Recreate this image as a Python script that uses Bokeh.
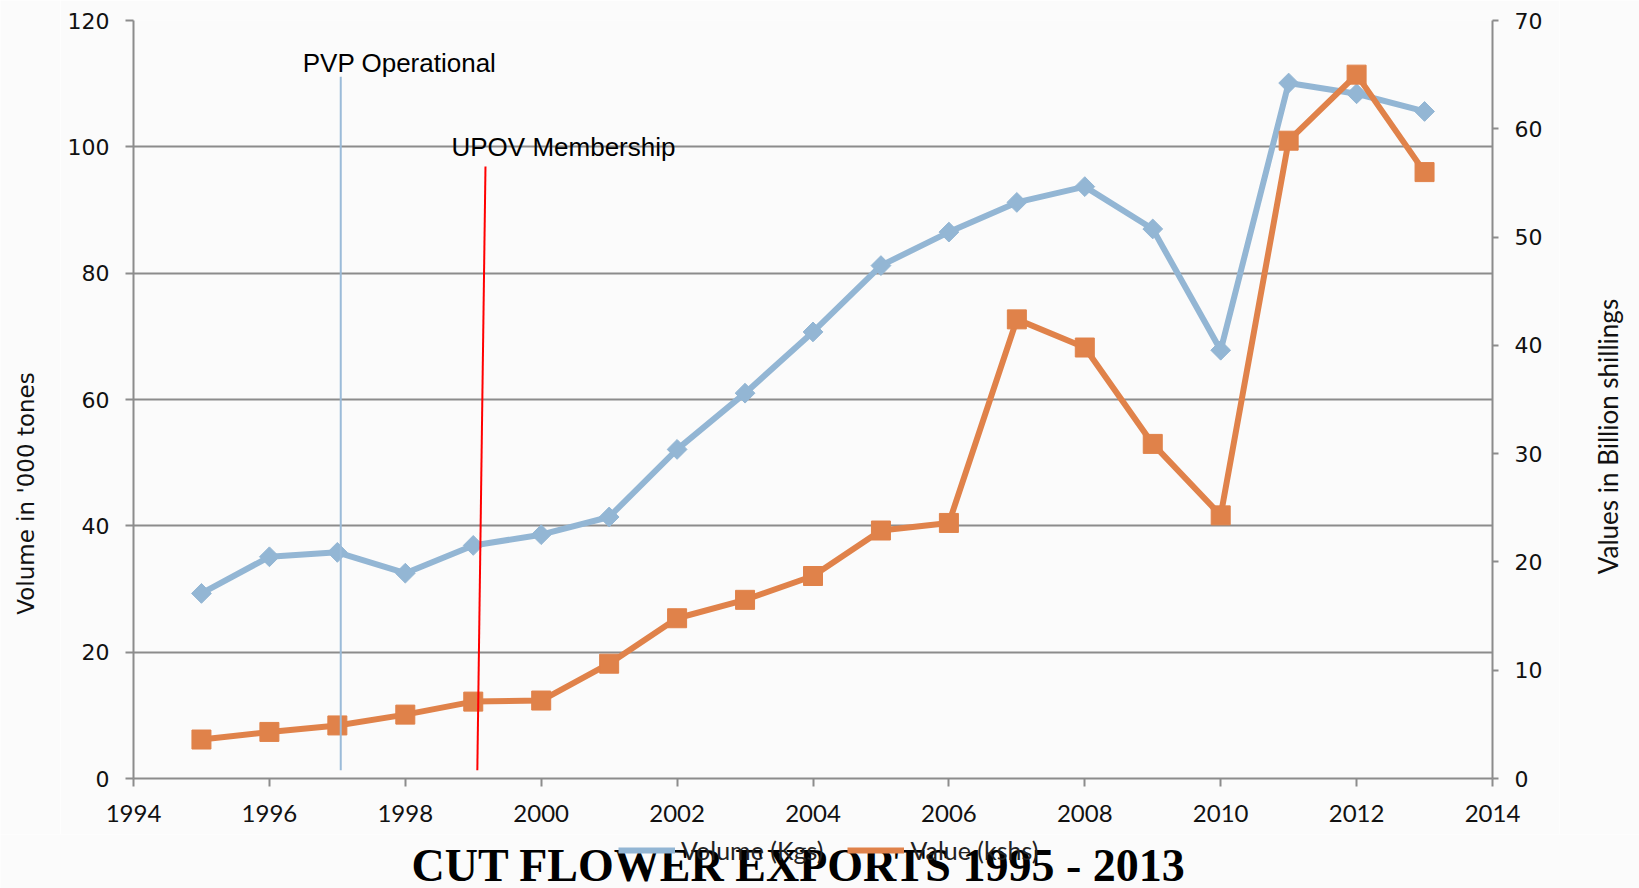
import math
from bokeh.plotting import figure
from bokeh.layouts import column, row
from bokeh.models import (Range1d, LinearAxis, SingleIntervalTicker, Label,
                          Legend, LegendItem)
from bokeh.embed import file_html
from bokeh.resources import INLINE

# ---------------- data ----------------
years = [1995, 1996, 1997, 1998, 1999, 2000, 2001, 2002, 2003, 2004,
         2005, 2006, 2007, 2008, 2009, 2010, 2011, 2012, 2013]
volume = [29.3, 35.1, 35.8, 32.5, 36.9, 38.6, 41.4, 52.1, 61.0, 70.7,
          81.2, 86.5, 91.2, 93.7, 87.0, 67.8, 110.1, 108.4, 105.6]
value = [3.6, 4.3, 4.9, 5.9, 7.1, 7.2, 10.6, 14.8, 16.5, 18.7,
         22.9, 23.6, 42.4, 39.8, 30.9, 24.3, 58.9, 65.0, 56.0]

series_names = ["Volume (Kgs)", "Value (kshs)"]
left_axis_title = "Volume in '000 tones"
right_axis_title = "Values in Billion shillings"
chart_title = "CUT FLOWER EXPORTS 1995 - 2013"

# annotation lines (year, left-axis value)
pvp_x = [1997.05, 1997.05]
pvp_y = [1.3, 111.1]
upov_x = [1999.06, 1999.18]
upov_y = [1.3, 96.9]
pvp_text = "PVP Operational"
upov_text = "UPOV Membership"

BLUE = "#93b6d4"
ORANGE = "#e0824a"
GRID = "#8c8c8c"
BG = "#fbfbfb"
TXT = "#111111"

W = 1639
WL, WR = 60, 80          # side strips holding the axis titles
WM = W - WL - WR         # main plot width
H1 = 834
H2 = 54


def no_align(fig):
    try:
        fig.frame_align = False
        return True
    except Exception:
        return False


def strip(width, height):
    f = figure(width=width, height=height, output_backend="svg",
               toolbar_location=None, x_range=Range1d(0, 1), y_range=Range1d(0, 1),
               x_axis_location=None, y_axis_location=None,
               min_border_left=0, min_border_right=0,
               min_border_top=0, min_border_bottom=0)
    f.background_fill_color = BG
    f.border_fill_color = BG
    f.outline_line_color = None
    f.grid.visible = False
    return f


# ---------------- main plot ----------------
p = figure(width=WM, height=H1, output_backend="svg", toolbar_location=None,
           x_range=Range1d(1994, 2014), y_range=Range1d(0, 120),
           min_border_left=133 - WL, min_border_right=WM - (133 - WL) - 1359,
           min_border_top=20, min_border_bottom=56)
p.background_fill_color = BG
p.border_fill_color = BG
p.outline_line_color = None

p.extra_y_ranges = {"value": Range1d(0, 70)}

p.xgrid.visible = False
p.ygrid.grid_line_color = GRID
p.ygrid.grid_line_width = 2
p.ygrid.ticker = SingleIntervalTicker(interval=20)

xa = p.xaxis[0]
xa.ticker = SingleIntervalTicker(interval=2)
xa.axis_line_color = GRID
xa.axis_line_width = 2
xa.major_tick_line_color = GRID
xa.major_tick_line_width = 2
xa.major_tick_out = 8
xa.major_tick_in = 0
xa.minor_tick_line_color = None
xa.major_label_text_font = "Lato"
xa.major_label_text_font_size = "24px"
xa.major_label_text_color = TXT
xa.major_label_standoff = 18

ya = p.yaxis[0]
ya.ticker = SingleIntervalTicker(interval=20)
ya.axis_line_color = GRID
ya.axis_line_width = 2
ya.major_tick_line_color = GRID
ya.major_tick_line_width = 2
ya.major_tick_out = 8
ya.major_tick_in = 0
ya.minor_tick_line_color = None
ya.major_label_text_font = "DejaVu Sans"
ya.major_label_text_font_size = "22px"
ya.major_label_text_color = TXT
ya.major_label_standoff = 16

ra = LinearAxis(y_range_name="value", ticker=SingleIntervalTicker(interval=10))
ra.axis_line_color = GRID
ra.axis_line_width = 2
ra.major_tick_line_color = GRID
ra.major_tick_line_width = 2
ra.major_tick_out = 6
ra.major_tick_in = 0
ra.minor_tick_line_color = None
ra.major_label_text_font = "DejaVu Sans"
ra.major_label_text_font_size = "22px"
ra.major_label_text_color = TXT
ra.major_label_standoff = 16
p.add_layout(ra, "right")

bl = p.line(years, volume, line_color=BLUE, line_width=6)
bm = p.scatter(years, volume, marker="square", size=14, angle=math.pi / 4,
               fill_color=BLUE, line_color=BLUE)
ol = p.line(years, value, y_range_name="value", line_color=ORANGE, line_width=6)
om = p.scatter(years, value, y_range_name="value", marker="square", size=19,
               fill_color=ORANGE, line_color=ORANGE)

p.line(pvp_x, pvp_y, line_color="#9bbbd9", line_width=2)
p.line(upov_x, upov_y, line_color="#ff0000", line_width=2)

p.add_layout(Label(x=1996.49, y=113.3, text=pvp_text, text_font="Liberation Sans",
                   text_font_size="26px", text_color="#000000",
                   text_baseline="alphabetic"))
p.add_layout(Label(x=1998.68, y=99.9, text=upov_text, text_font="Liberation Sans",
                   text_font_size="26px", text_color="#000000",
                   text_baseline="alphabetic"))

# ---------------- side strips with the axis titles ----------------
fl = strip(WL, H1)
fr = strip(WR, H1)
free_l = no_align(fl)
free_r = no_align(fr)
dy_l = 0 if free_l else 56
dy_r = 0 if free_r else 56

fl.add_layout(Label(x=25, y=341 - dy_l, x_units="screen", y_units="screen",
                    text=left_axis_title, angle=math.pi / 2,
                    text_align="center", text_baseline="middle",
                    text_font="DejaVu Sans", text_font_size="23px",
                    text_color=TXT))
fr.add_layout(Label(x=48, y=398 - dy_r, x_units="screen", y_units="screen",
                    text=right_axis_title, angle=math.pi / 2,
                    text_align="center", text_baseline="middle",
                    text_font="Lato", text_font_size="26px", text_color=TXT))

# ---------------- bottom strip: legend with the big title over it ----------------
p2 = figure(width=W, height=H2, output_backend="svg", toolbar_location=None,
            x_range=Range1d(1994, 2014), y_range=Range1d(-1000, -900),
            x_axis_location=None, y_axis_location=None,
            min_border_left=0, min_border_right=0,
            min_border_top=0, min_border_bottom=0)
p2.background_fill_color = BG
p2.border_fill_color = BG
p2.outline_line_color = None
p2.grid.visible = False
free_b = no_align(p2)
dx = 0 if free_b else 133

# series copies (outside the visible range) feeding the legend swatches
lb = p2.line(years, volume, line_color=BLUE, line_width=6)
lo = p2.line(years, value, line_color=ORANGE, line_width=6)

legend = Legend(items=[LegendItem(label=series_names[0], renderers=[lb]),
                       LegendItem(label=series_names[1], renderers=[lo])],
                location=(618 - dx, 23), orientation="horizontal",
                border_line_color=None, background_fill_alpha=0,
                padding=0, margin=0, spacing=24, label_standoff=6,
                glyph_width=57, glyph_height=20, label_height=20,
                label_text_font="Lato", label_text_font_size="25px",
                label_text_color="#222222")
p2.add_layout(legend)

p2.add_layout(Label(x=798 - dx, y=23, x_units="screen", y_units="screen",
                    text=chart_title, text_align="center",
                    text_baseline="alphabetic", text_font="Liberation Serif",
                    text_font_style="bold", text_font_size="46px",
                    text_color="#000000", level="overlay"))

layout = column(row(fl, p, fr, spacing=0), p2, spacing=0)
open("out.html", "w").write(file_html(layout, INLINE))
